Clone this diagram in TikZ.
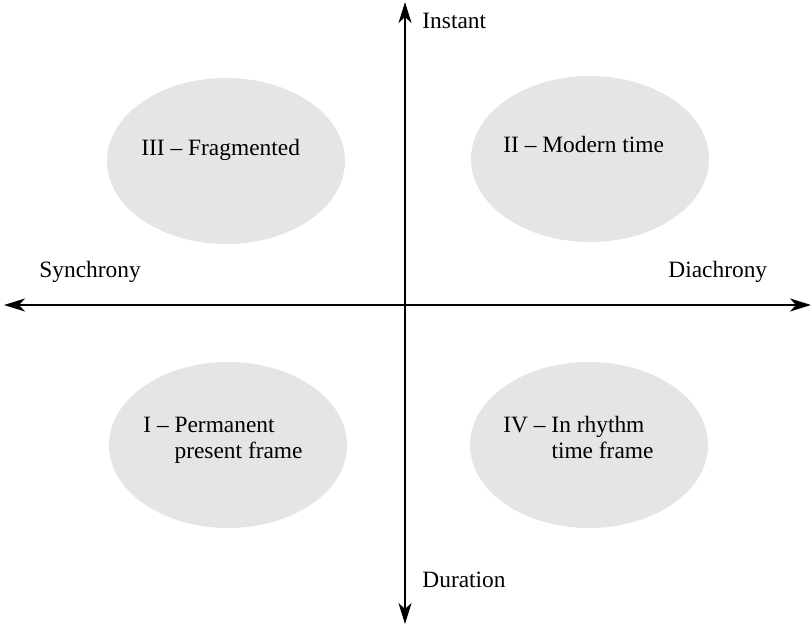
\documentclass[tikz,border=0pt]{standalone}
\usepackage{fontspec}
\setmainfont{Liberation Serif}
\usetikzlibrary{shapes.geometric,arrows.meta}
\tikzset{
  quad/.style={ellipse, fill=black!10, draw=none, minimum width=119pt, minimum height=83pt, inner sep=0pt},
  axis/.style={line width=0.65pt, {Stealth[length=10.5pt,width=6.5pt,inset=3pt]}-{Stealth[length=10.5pt,width=6.5pt,inset=3pt]}},
  lbl/.style={anchor=base west, inner sep=0pt, font=\fontsize{11.7}{13}\selectfont},
}
\begin{document}
\begin{tikzpicture}[x=0.5pt,y=-0.5pt]
\useasboundingbox (0,0) rectangle (812,626);
% ellipses
\node[quad] (e3) at (226,161) {};
\node[quad] (e2) at (590,159) {};
\node[quad] (e1) at (228,445) {};
\node[quad] (e4) at (589,445) {};
% axes
\coordinate (L) at (4,305);
\coordinate (R) at (811,305);
\coordinate (T) at (405,2);
\coordinate (B) at (405,624);
\draw[axis] (L) -- (R);
\draw[axis] (B) -- (T);
% axis labels
\node[lbl] (instant) at (422,29) {Instant};
\node[lbl] (duration) at (422,587) {Duration};
\node[lbl] (sync) at (39,277) {Synchrony};
\node[lbl] (diac) at (668,277) {Diachrony};
% quadrant labels
\node[lbl] (t3) at (141,155) {III – Fragmented};
\node[lbl] (t2) at (503,152) {II – Modern time};
\node[lbl] (t1) at (143,432) {\begin{tabular}[t]{@{}l@{\ }l@{}}I – & Permanent\\ & present frame\end{tabular}};
\node[lbl] (t4) at (503,432) {\begin{tabular}[t]{@{}l@{\ }l@{}}IV – & In rhythm\\ & time frame\end{tabular}};
\end{tikzpicture}
\end{document}
